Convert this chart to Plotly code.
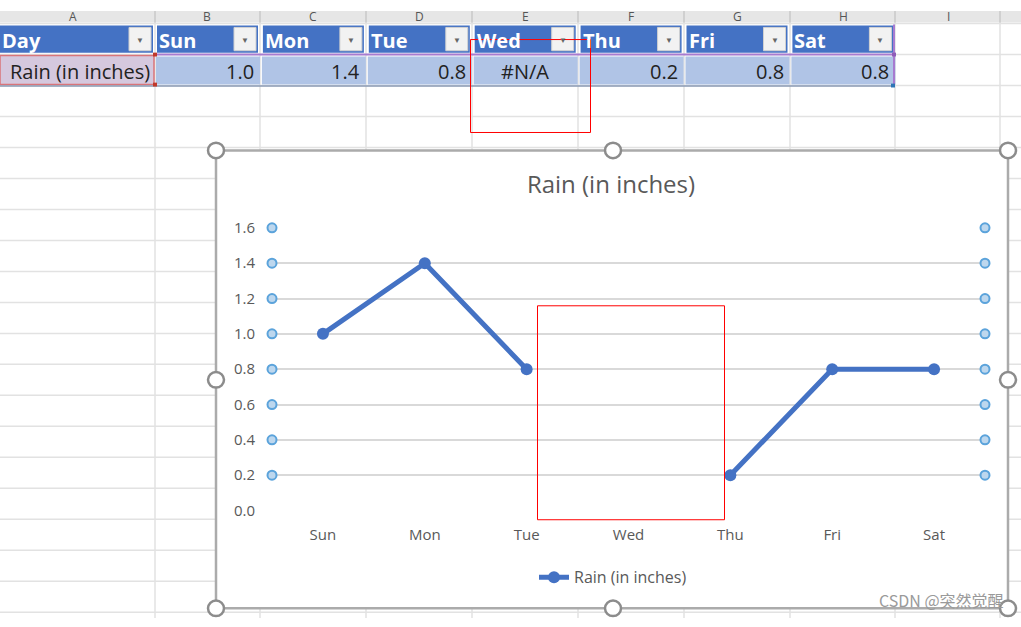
import plotly.graph_objects as go

# ---------------- data ----------------
days = ["Sun", "Mon", "Tue", "Wed", "Thu", "Fri", "Sat"]
rain = [1.0, 1.4, 0.8, None, 0.2, 0.8, 0.8]
series_name = "Rain (in inches)"
header_first = "Day"
y_ticks = [0.0, 0.2, 0.4, 0.6, 0.8, 1.0, 1.2, 1.4, 1.6]
col_letters = ["A", "B", "C", "D", "E", "F", "G", "H", "I"]
title_text = "Rain (in inches)"
watermark = "CSDN @突然觉醒"

W, H = 1021, 627
def px(x):
    return x / W
def py(y):
    return 1 - y / H

FONT = "Open Sans"
GRAY_TXT = "#595959"
BLUE = "#4472C4"

fig = go.Figure()

xs = list(range(len(days)))
fig.add_trace(go.Scatter(
    x=xs, y=rain, name=series_name, mode="lines+markers",
    line=dict(color=BLUE, width=5), marker=dict(size=12, color=BLUE),
    connectgaps=False, cliponaxis=False, hoverinfo="skip",
))
sel_y = [v for v in y_ticks if v > 0]
for xv in (-0.5, 6.5):
    fig.add_trace(go.Scatter(
        x=[xv] * len(sel_y), y=sel_y, mode="markers", showlegend=False,
        marker=dict(size=9, color="#BDD7EE", line=dict(color="#5BA3DB", width=2)),
        cliponaxis=False, hoverinfo="skip",
    ))

shapes = []
annotations = []

# ---------------- spreadsheet background ----------------
row_lines = [13 + 32 * i for i in range(20)]
col_lines = [155, 260, 366, 472, 578, 684, 790, 895, 1000]
for y in row_lines:
    shapes.append(dict(type="line", xref="paper", yref="paper", x0=0, x1=1,
                       y0=py(y), y1=py(y), line=dict(color="#E2E2E2", width=1.5), layer="below"))
for x in col_lines:
    shapes.append(dict(type="line", xref="paper", yref="paper", x0=px(x), x1=px(x),
                       y0=0, y1=1, line=dict(color="#E2E2E2", width=1.5), layer="below"))
shapes.append(dict(type="rect", xref="paper", yref="paper", x0=0, x1=1, y0=py(12), y1=1,
                   fillcolor="#E6E6E6", line=dict(width=0), layer="below"))
for x in col_lines:
    shapes.append(dict(type="line", xref="paper", yref="paper", x0=px(x), x1=px(x),
                       y0=py(12), y1=1, line=dict(color="#C8C8C8", width=1.5), layer="below"))
letter_x = [73, 207, 313, 419, 525, 631, 737, 843, 948]
for lx, lt in zip(letter_x, col_letters):
    annotations.append(dict(text=lt, x=px(lx), y=py(6), xref="paper", yref="paper",
                            showarrow=False, font=dict(family=FONT, size=12, color="#555555"),
                            xanchor="center", yanchor="middle", borderpad=0))

# ---------------- table ----------------
cells = [(0, 153)] + [(157 + 105.9 * i, 157 + 105.9 * i + 101) for i in range(7)]
headers = [header_first] + days
for (x0, x1), htxt in zip(cells, headers):
    shapes.append(dict(type="rect", xref="paper", yref="paper", x0=px(x0), x1=px(x1),
                       y0=py(43), y1=py(15), fillcolor=BLUE, line=dict(width=0), layer="below"))
    shapes.append(dict(type="rect", xref="paper", yref="paper", x0=px(x1 - 24), x1=px(x1 - 2),
                       y0=py(41), y1=py(17), fillcolor="#F2F2F2", line=dict(color="#D0D0D0", width=1),
                       layer="below"))
    annotations.append(dict(text="▼", x=px(x1 - 13), y=py(29), xref="paper", yref="paper",
                            showarrow=False, font=dict(size=8, color="#666666"),
                            xanchor="center", yanchor="middle"))
    annotations.append(dict(text="<b>" + htxt + "</b>", x=px(x0 + 1), y=py(30),
                            xref="paper", yref="paper", showarrow=False,
                            font=dict(family=FONT, size=20, color="white"),
                            xanchor="left", yanchor="middle", borderpad=0))
shapes.append(dict(type="line", xref="paper", yref="paper", x0=px(157), x1=px(894),
                   y0=py(45), y1=py(45), line=dict(color="#A77BD0", width=2), layer="below"))
shapes.append(dict(type="rect", xref="paper", yref="paper", x0=px(0), x1=px(154),
                   y0=py(76), y1=py(46), fillcolor="#D5C8DE", line=dict(color="#D9747A", width=1.5),
                   layer="below"))
annotations.append(dict(text=series_name, x=px(151), y=py(62), xref="paper", yref="paper",
                        showarrow=False, font=dict(family=FONT, size=20, color="#222222"),
                        xanchor="right", yanchor="middle", borderpad=0))
for (x0, x1), v in zip(cells[1:], rain):
    shapes.append(dict(type="rect", xref="paper", yref="paper", x0=px(x0 - 1), x1=px(x1 + 2),
                       y0=py(76), y1=py(47), fillcolor="#B0C4E6", line=dict(width=0), layer="below"))
    if v is None:
        annotations.append(dict(text="#N/A", x=px((x0 + x1) / 2), y=py(62), xref="paper", yref="paper",
                                showarrow=False, font=dict(family=FONT, size=20, color="#222222"),
                                xanchor="center", yanchor="middle"))
    else:
        annotations.append(dict(text=f"{v:.1f}", x=px(x1 - 2), y=py(62), xref="paper", yref="paper",
                                showarrow=False, font=dict(family=FONT, size=20, color="#222222"),
                                xanchor="right", yanchor="middle"))
shapes.append(dict(type="line", xref="paper", yref="paper", x0=px(0), x1=px(894),
                   y0=py(77.5), y1=py(77.5), line=dict(color="#8A9AB5", width=1.5), layer="below"))
shapes.append(dict(type="line", xref="paper", yref="paper", x0=px(894), x1=px(894),
                   y0=py(77), y1=py(14), line=dict(color="#A77BD0", width=2), layer="below"))
for (cx, cy, col) in [(155, 45, "#C0392B"), (155, 76, "#C0392B"), (894, 45, "#8E5CB8"), (893, 77, "#2E75B6")]:
    shapes.append(dict(type="rect", xref="paper", yref="paper", x0=px(cx - 2), x1=px(cx + 2),
                       y0=py(cy + 2), y1=py(cy - 2), fillcolor=col, line=dict(width=0), layer="below"))

# ---------------- chart area ----------------
shapes.append(dict(type="rect", xref="paper", yref="paper", x0=px(216), x1=px(1008),
                   y0=py(617), y1=py(144), fillcolor="white",
                   line=dict(color="#ABABAB", width=2.5), layer="below"))
for hx, hy in [(216, 144), (613, 144), (1008, 144), (216, 381), (1008, 381),
               (216, 617), (613, 617), (1008, 617)]:
    shapes.append(dict(type="circle", xref="paper", yref="paper", x0=px(hx - 8), x1=px(hx + 8),
                       y0=py(hy + 8), y1=py(hy - 8), fillcolor="white",
                       line=dict(color="#8C8C8C", width=2.5), layer="above"))

# red highlight rectangles
shapes.append(dict(type="rect", xref="paper", yref="paper", x0=px(470.5), x1=px(590.5),
                   y0=py(125.5), y1=py(29.5), line=dict(color="#FF0000", width=1), layer="above"))
shapes.append(dict(type="rect", xref="paper", yref="paper", x0=px(537.5), x1=px(724.5),
                   y0=py(525.5), y1=py(304.5), line=dict(color="#FF0000", width=1), layer="above"))

annotations.append(dict(text=watermark, x=px(1005), y=py(608), xref="paper", yref="paper",
                        showarrow=False, font=dict(family="Noto Sans CJK SC", size=16, color="#9A9A9A"),
                        xanchor="right", yanchor="middle", borderpad=0))

fig.update_layout(
    width=W, height=H, margin=dict(l=0, r=0, t=0, b=0),
    paper_bgcolor="white", plot_bgcolor="rgba(0,0,0,0)",
    title=dict(text=title_text, x=px(611), y=py(185), xanchor="center", yanchor="middle",
               font=dict(family=FONT, size=24, color=GRAY_TXT)),
    xaxis=dict(domain=[px(272), px(985)], range=[-0.5, 6.5], tickvals=xs, ticktext=days,
               showgrid=False, zeroline=False, showline=False, ticks="",
               ticklabelstandoff=13, tickfont=dict(family=FONT, size=15, color=GRAY_TXT),
               fixedrange=True),
    yaxis=dict(domain=[py(516), py(224)], range=[0, 1.6], tickvals=y_ticks,
               tickformat=".1f", showgrid=True, gridcolor="#D9D9D9", gridwidth=1.5,
               zeroline=False, showline=False, ticks="", ticklabelstandoff=16,
               tickfont=dict(family=FONT, size=15, color=GRAY_TXT), fixedrange=True),
    legend=dict(orientation="h", x=px(613), y=py(585), xanchor="center", yanchor="middle",
                bgcolor="rgba(0,0,0,0)", font=dict(family=FONT, size=16, color=GRAY_TXT),
                itemwidth=30),
    shapes=shapes, annotations=annotations, showlegend=True,
)

fig.write_html("out.html", config={"displayModeBar": False})

# remove the browser's default page margin so the figure fills the window exactly
with open("out.html", encoding="utf-8") as f:
    html = f.read()
html = html.replace("<head>", "<head><style>html,body{margin:0;padding:0;overflow:hidden;}</style>", 1)
with open("out.html", "w", encoding="utf-8") as f:
    f.write(html)
